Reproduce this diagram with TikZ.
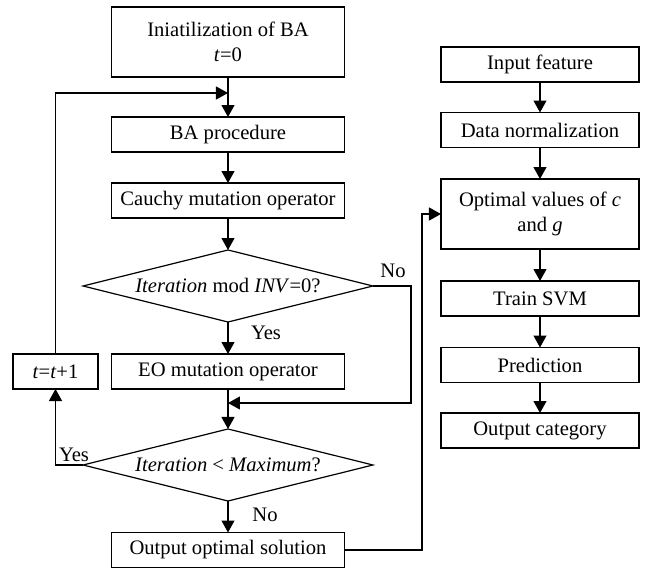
\documentclass[tikz,border=0pt]{standalone}
\usepackage{fontspec}
\setmainfont{Liberation Serif}
\usetikzlibrary{shapes.geometric,arrows.meta}

\begin{document}
\begin{tikzpicture}[
    x=0.5pt, y=-0.5pt,
    font=\fontsize{10.3}{12.5}\selectfont,
    line width=0.6pt,
    boxstyle/.style={
       rectangle, draw, minimum height=17.5pt,
       inner sep=2pt, outer sep=0pt, align=center
        },
    leftbox/.style={boxstyle, minimum width=116.5pt},
    rightbox/.style={boxstyle, minimum width=99pt},
    teststyle/.style={
       diamond, draw, aspect=4, inner sep=0pt,
       minimum width=145pt, minimum height=36pt, outer sep=0pt
        },
    arrowstyle/.style={-{Triangle[width=6.5pt,length=6pt]}}]

\useasboundingbox (0,0) rectangle (645,568);

% left column: bat algorithm
\node [leftbox, minimum height=35pt] (init) at (228,42) {Iniatilization of BA\\\textit{t}=0};
\node [leftbox] (ba) at (228,134.5) {BA procedure};
\node [leftbox] (cauchy) at (228,200.5) {Cauchy mutation operator};
\node [teststyle] (modtest) at (228,286) {\textit{Iteration} mod \textit{INV}=0?};
\node [leftbox] (eo) at (228,371.5) {EO mutation operator};
\node [boxstyle, minimum width=42.5pt] (tinc) at (55.5,371.5) {\textit{t}=\textit{t}+1};
\node [teststyle] (maxtest) at (228,465) {\textit{Iteration} < \textit{Maximum}?};
\node [leftbox] (out) at (228,550) {Output optimal solution};

\node (yes-1) at (266,333) {Yes};
\node (no-1) at (393,271) {No};
\node (yes-2) at (74,455) {Yes};
\node (no-2) at (265,515) {No};

\coordinate (loop) at (228,93);
\coordinate (merge) at (228,403);
\coordinate (noturn) at (411,403);
\coordinate (outturn) at (422,214);

% right column: svm
\node [rightbox] (feat) at (540,64.5) {Input feature};
\node [rightbox] (norm) at (540,130) {Data normalization};
\node [rightbox, minimum height=35pt] (opt) at (540,214) {Optimal values of \textit{c}\\and \textit{g}};
\node [rightbox] (svm) at (540,298.5) {Train SVM};
\node [rightbox] (pred) at (540,365) {Prediction};
\node [rightbox] (cat) at (540,430.5) {Output category};

\draw (init) -- (loop);
\draw [arrowstyle] (loop) -- (ba);
\draw [arrowstyle] (ba) -- (cauchy);
\draw [arrowstyle] (cauchy) -- (modtest);
\draw [arrowstyle] (modtest) -- (eo);
\draw [arrowstyle] (modtest.east) -| (noturn) -- (merge);
\draw (eo) -- (merge);
\draw [arrowstyle] (merge) -- (maxtest);
\draw [arrowstyle] (maxtest.west) -| (tinc.south);
\draw [arrowstyle] (tinc.north) |- (loop);
\draw [arrowstyle] (maxtest) -- (out);
\draw [arrowstyle] (out.east) -| (outturn) -- (opt.west);

\foreach [remember=\i as \j (initially feat)] \i in {norm,opt,svm,pred,cat} {
   \draw [arrowstyle] (\j) -- (\i);
 }
\end{tikzpicture}
\end{document}
